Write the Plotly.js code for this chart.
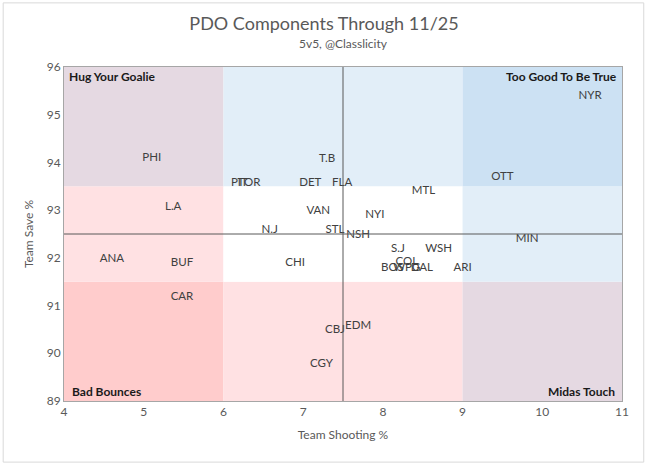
<!DOCTYPE html>
<html>
<head>
<meta charset="utf-8">
<script src="https://cdn.plot.ly/plotly-3.0.1.min.js"></script>
<style>html,body{margin:0;padding:0;background:#fff;}#chart{width:648px;height:466px;}</style>
</head>
<body>
<div id="chart"></div>
<script>
// Data (label centres)
const teams = ["PHI","T.B","PIT","TOR","DET","FLA","L.A","VAN","N.J","STL","NSH","NYI","MTL","OTT","NYR","MIN","S.J","WSH","COL","BOS","WPG","DAL","ARI","EDM","ANA","BUF","CHI","CAR","CBJ","CGY"];
const shootingPct = [5.10,7.30,6.20,6.32,7.09,7.49,5.37,7.19,6.58,7.40,7.69,7.90,8.51,9.50,10.60,9.81,8.19,8.70,8.30,8.12,8.30,8.49,9.00,7.69,4.60,5.48,6.90,5.48,7.40,7.23];
const savePct = [94.09,94.06,93.57,93.57,93.57,93.57,93.07,92.97,92.58,92.58,92.48,92.90,93.39,93.69,95.39,92.39,92.18,92.18,91.92,91.78,91.78,91.78,91.78,90.56,91.97,91.88,91.88,91.18,90.49,89.77];

// Quadrant structure
const xBands = [4, 6, 9, 11];
const yBands = [89, 91.5, 93.5, 96];
// colours by [row from bottom][col from left]
const bandColors = [
  ["#FFCCCC", "#FFE1E3", "#E5D9E2"],
  ["#FFE1E3", "#FFFFFF", "#E2EEF8"],
  ["#E5D9E2", "#E2EEF8", "#CCE1F3"]
];
const avgShooting = 7.5;
const avgSave = 92.5;
const cornerLabels = ["Hug Your Goalie", "Too Good To Be True", "Bad Bounces", "Midas Touch"];
const xTicks = [4,5,6,7,8,9,10,11];
const yTicks = [89,90,91,92,93,94,95,96];

const shapes = [];
for (let r = 0; r < 3; r++) {
  for (let c = 0; c < 3; c++) {
    shapes.push({type:"rect", xref:"x", yref:"y", x0:xBands[c], x1:xBands[c+1], y0:yBands[r], y1:yBands[r+1],
      fillcolor:bandColors[r][c], line:{width:0}, layer:"below"});
  }
}
shapes.push({type:"line", xref:"x", yref:"y", x0:avgShooting, x1:avgShooting, y0:yBands[0], y1:yBands[3], line:{color:"#595959", width:1}});
shapes.push({type:"line", xref:"x", yref:"y", x0:xBands[0], x1:xBands[3], y0:avgSave, y1:avgSave, line:{color:"#595959", width:1}});
// outer chart border
shapes.push({type:"rect", xref:"paper", yref:"paper", x0:-0.109, x1:1.039, y0:-0.183, y1:1.192, line:{color:"#D9D9D9", width:1}, fillcolor:"rgba(0,0,0,0)"});

const FONT = "Lato, 'Open Sans', sans-serif";
const cornerFont = {family: FONT, size: 12, color: "#1a1a1a", weight: 700};

const trace = {
  type: "scatter",
  mode: "text",
  x: shootingPct,
  y: savePct,
  text: teams,
  textposition: "middle center",
  textfont: {family: FONT, size: 11.5, color: "#404040"},
  hoverinfo: "text",
  cliponaxis: false
};

const layout = {
  width: 648, height: 466,
  margin: {l: 64, r: 26, t: 67, b: 65},
  paper_bgcolor: "#fff",
  plot_bgcolor: "#fff",
  showlegend: false,
  title: {text: "PDO Components Through 11/25", font: {family: FONT, size: 18, color: "#595959"},
    x: 0.5, xanchor: "center", y: 1 - 24/466, yanchor: "middle", xref: "container", yref: "container"},
  xaxis: {range: [4, 11], tickvals: xTicks, showgrid: false, zeroline: false,
    showline: true, mirror: true, linecolor: "#A6A6A6", linewidth: 1, ticks: "",
    tickfont: {family: FONT, size: 12, color: "#595959"},
    title: {text: "Team Shooting %", font: {family: FONT, size: 12, color: "#595959"}, standoff: 12}},
  yaxis: {range: [89, 96], tickvals: yTicks, showgrid: false, zeroline: false,
    showline: true, mirror: true, linecolor: "#A6A6A6", linewidth: 1, ticks: "",
    tickfont: {family: FONT, size: 12, color: "#595959"},
    title: {text: "Team Save %", font: {family: FONT, size: 12, color: "#595959"}, standoff: 10}},
  shapes: shapes,
  annotations: [
    {text: "5v5, @Classlicity", xref: "paper", yref: "paper", x: 0.5, y: 1.069, xanchor: "center", yanchor: "middle", showarrow: false,
      font: {family: FONT, size: 12, color: "#595959"}},
    {text: "<b>" + cornerLabels[0] + "</b>", xref: "paper", yref: "paper", x: 0.006, y: 0.973, xanchor: "left", yanchor: "middle", showarrow: false, font: cornerFont},
    {text: "<b>" + cornerLabels[1] + "</b>", xref: "paper", yref: "paper", x: 0.995, y: 0.973, xanchor: "right", yanchor: "middle", showarrow: false, font: cornerFont},
    {text: "<b>" + cornerLabels[2] + "</b>", xref: "paper", yref: "paper", x: 0.011, y: 0.027, xanchor: "left", yanchor: "middle", showarrow: false, font: cornerFont},
    {text: "<b>" + cornerLabels[3] + "</b>", xref: "paper", yref: "paper", x: 0.991, y: 0.027, xanchor: "right", yanchor: "middle", showarrow: false, font: cornerFont}
  ]
};

Plotly.newPlot("chart", [trace], layout, {displayModeBar: false, staticPlot: true});
</script>
</body>
</html>
